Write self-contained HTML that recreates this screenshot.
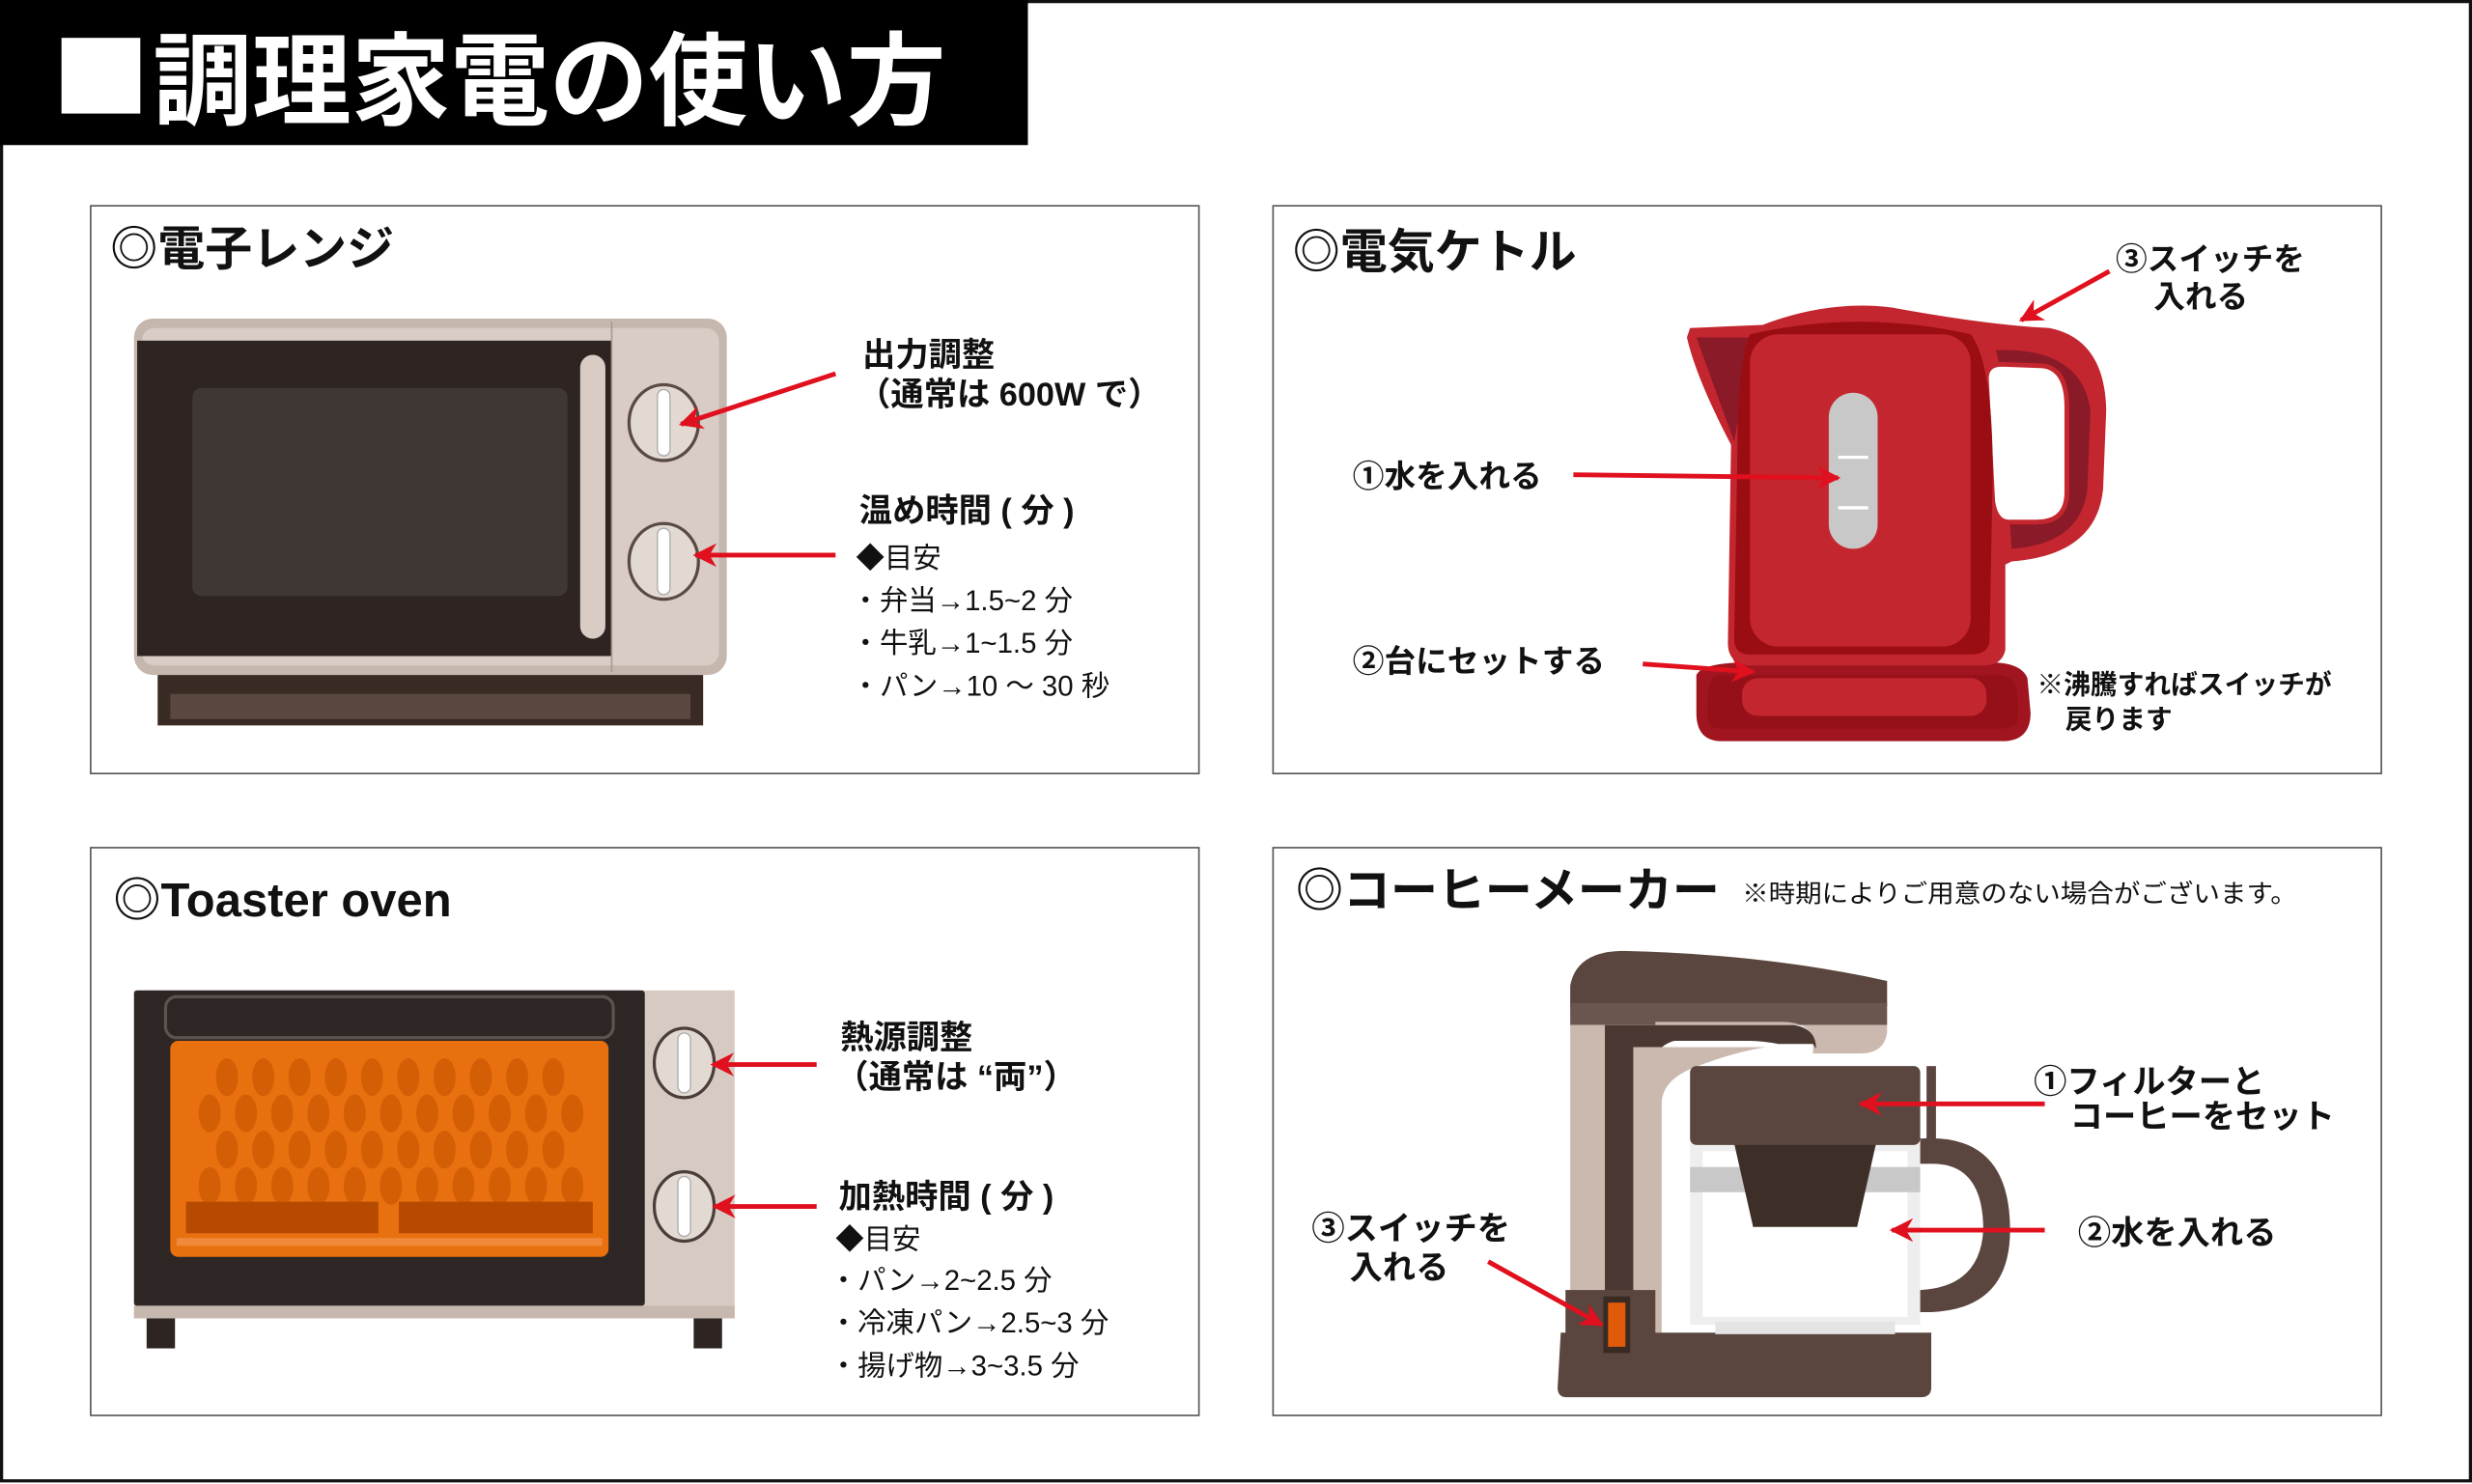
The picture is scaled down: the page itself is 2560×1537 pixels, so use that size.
<!DOCTYPE html>
<html><head><meta charset="utf-8"><style>
html,body{margin:0;padding:0;background:#fff}
svg{display:block}
text{font-family:"Liberation Sans","Noto Sans CJK JP",sans-serif;fill:#111}
.b{font-weight:bold}
</style></head><body>
<svg width="2560" height="1537" viewBox="0 0 1568 941" preserveAspectRatio="none" xmlns="http://www.w3.org/2000/svg">
<defs>
<marker id="ah" viewBox="0 0 10 10" refX="9" refY="5" markerWidth="5" markerHeight="5" orient="auto-start-reverse" markerUnits="strokeWidth">
<path d="M0,0 L10,5 L0,10 L3,5 z" fill="#e0101e"/></marker>
</defs>
<rect x="0" y="0" width="1568" height="941" fill="#fff"/>
<rect x="1" y="1" width="1566" height="938" fill="none" stroke="#111" stroke-width="2"/>
<rect x="0" y="0" width="652" height="92" fill="#000"/>
<rect x="39" y="24" width="50" height="48" fill="#fff"/>
<text x="97" y="74" class="b" font-size="64" textLength="503" lengthAdjust="spacingAndGlyphs" style="fill:#fff">調理家電の使い方</text>

<g fill="none" stroke="#555" stroke-width="1">
<rect x="57.5" y="130.5" width="703" height="360"/>
<rect x="807.5" y="130.5" width="703" height="360"/>
<rect x="57.5" y="537.5" width="703" height="360"/>
<rect x="807.5" y="537.5" width="703" height="360"/>
</g>

<!-- Microwave -->
<text x="70" y="168" class="b" font-size="30">◎電子レンジ</text>
<rect x="100" y="425" width="346" height="35" fill="#3a2a24"/>
<rect x="108" y="440" width="330" height="16" fill="#5a4840"/>
<rect x="85" y="202" width="376" height="226" rx="12" fill="#c6b7ae"/>
<rect x="90" y="208" width="366" height="214" rx="8" fill="#d8ccc5"/>
<rect x="87" y="216" width="301" height="200" fill="#2e2422"/>
<rect x="122" y="246" width="238" height="132" rx="6" fill="#3f3734"/>
<rect x="368" y="225" width="16" height="180" rx="8" fill="#d8ccc5"/>
<line x1="388" y1="204" x2="388" y2="426" stroke="#a99890" stroke-width="1"/>
<g fill="#e2d9d3" stroke="#5a4a44" stroke-width="2">
<ellipse cx="421" cy="268" rx="22" ry="24"/><ellipse cx="421" cy="356" rx="22" ry="24"/></g>
<rect x="417" y="247" width="8" height="42" rx="4" fill="#fff" stroke="#aaa" stroke-width="0.8"/>
<rect x="417" y="335" width="8" height="42" rx="4" fill="#fff" stroke="#aaa" stroke-width="0.8"/>
<g stroke="#e0101e" stroke-width="3" marker-end="url(#ah)">
<line x1="530" y1="237" x2="432" y2="269"/>
<line x1="530" y1="352" x2="441" y2="352"/></g>
<text x="547" y="232" class="b" font-size="21">出力調整</text>
<text x="544" y="257" class="b" font-size="21">（通常は 600W で）</text>
<text x="545" y="331" class="b" font-size="21">温め時間 ( 分 )</text>
<text x="543" y="360" font-size="18">◆目安</text>
<text x="540" y="387" font-size="18">・弁当→1.5~2 分</text>
<text x="540" y="414" font-size="18">・牛乳→1~1.5 分</text>
<text x="540" y="441" font-size="18">・パン→10 ～ 30 秒</text>

<!-- Kettle -->
<text x="820" y="170" class="b" font-size="30">◎電気ケトル</text>
<path d="M1076,428 Q1080,420 1110,420 L1262,420 Q1282,420 1286,430 L1288,452 Q1288,470 1270,470 L1092,470 Q1076,470 1076,452 Z" fill="#a01520"/>
<path d="M1090,428 L1270,428 Q1280,430 1280,445 L1280,455 Q1280,462 1270,462 L1092,462 Q1083,462 1083,455 L1083,445 Q1083,430 1090,428 Z" fill="#96101a"/>
<rect x="1105" y="430" width="155" height="24" rx="10" fill="#c4262f"/>
<path d="M1072,208 L1118,206 Q1160,190 1200,195 Q1260,206 1300,208 Q1335,215 1336,260 L1334,310 Q1330,352 1276,356 L1272,358 L1272,412 Q1270,422 1258,422 L1108,422 Q1096,420 1096,408 L1098,282 Q1076,240 1070,214 Z" fill="#c4262f"/>
<path d="M1076,214 L1112,214 L1100,280 Z" fill="#8a1a28"/>
<path d="M1266,222 Q1320,220 1326,260 L1324,310 Q1320,345 1276,348 L1268,230 Z" fill="#8a1a28"/>
<path d="M1260,240 Q1260,231 1270,231 L1296,232 Q1311,234 1311,258 L1311,312 Q1311,331 1292,331 L1274,331 Q1266,331 1264,318 Z" fill="#fff" stroke="#c4262f" stroke-width="3"/>
<path d="M1110,212 Q1180,196 1250,212 Q1264,230 1264,300 L1262,405 Q1262,415 1250,415 L1110,415 Q1100,415 1100,405 L1102,290 Q1102,230 1110,212 Z" fill="#9a0d12"/>
<rect x="1110" y="212" width="140" height="198" rx="18" fill="#c4262f"/>
<rect x="1160" y="249" width="31" height="99" rx="15.5" fill="#c8c8c8"/>
<line x1="1166" y1="290" x2="1185" y2="290" stroke="#fff" stroke-width="2"/>
<line x1="1166" y1="322" x2="1185" y2="322" stroke="#fff" stroke-width="2"/>
<g stroke="#e0101e" stroke-width="3" marker-end="url(#ah)">
<line x1="1338" y1="172" x2="1282" y2="203"/>
<line x1="998" y1="301" x2="1166" y2="303"/>
<line x1="1042" y1="421" x2="1112" y2="426"/></g>
<text x="1342" y="171" class="b" font-size="20">③スイッチを</text>
<text x="1366" y="195" class="b" font-size="20">入れる</text>
<text x="858" y="309" class="b" font-size="20">①水を入れる</text>
<text x="858" y="426" class="b" font-size="20">②台にセットする</text>
<text x="1292" y="440" class="b" font-size="17">※沸騰すればスイッチが</text>
<text x="1310" y="462" class="b" font-size="17">戻ります</text>

<!-- Toaster -->
<text x="72" y="581" class="b" font-size="30">◎Toaster oven</text>
<rect x="93" y="833" width="18" height="22" fill="#2e2422"/>
<rect x="440" y="833" width="18" height="22" fill="#2e2422"/>
<rect x="85" y="628" width="381" height="208" fill="#d6cac3"/>
<rect x="85" y="628" width="324" height="200" rx="2" fill="#2e2624"/>
<rect x="85" y="828" width="381" height="8" fill="#c7b8af"/>
<rect x="105" y="632" width="284" height="26" rx="7" fill="#2e2624" stroke="#5a5350" stroke-width="2"/>
<rect x="108" y="660" width="278" height="137" rx="5" fill="#e8700f"/>
<g fill="#d45e06">
<ellipse cx="144" cy="683" rx="7" ry="12"/><ellipse cx="167" cy="683" rx="7" ry="12"/><ellipse cx="190" cy="683" rx="7" ry="12"/><ellipse cx="213" cy="683" rx="7" ry="12"/><ellipse cx="236" cy="683" rx="7" ry="12"/><ellipse cx="259" cy="683" rx="7" ry="12"/><ellipse cx="282" cy="683" rx="7" ry="12"/><ellipse cx="305" cy="683" rx="7" ry="12"/><ellipse cx="328" cy="683" rx="7" ry="12"/><ellipse cx="351" cy="683" rx="7" ry="12"/>
<ellipse cx="133" cy="706" rx="7" ry="12"/><ellipse cx="156" cy="706" rx="7" ry="12"/><ellipse cx="179" cy="706" rx="7" ry="12"/><ellipse cx="202" cy="706" rx="7" ry="12"/><ellipse cx="225" cy="706" rx="7" ry="12"/><ellipse cx="248" cy="706" rx="7" ry="12"/><ellipse cx="271" cy="706" rx="7" ry="12"/><ellipse cx="294" cy="706" rx="7" ry="12"/><ellipse cx="317" cy="706" rx="7" ry="12"/><ellipse cx="340" cy="706" rx="7" ry="12"/><ellipse cx="363" cy="706" rx="7" ry="12"/>
<ellipse cx="144" cy="729" rx="7" ry="12"/><ellipse cx="167" cy="729" rx="7" ry="12"/><ellipse cx="190" cy="729" rx="7" ry="12"/><ellipse cx="213" cy="729" rx="7" ry="12"/><ellipse cx="236" cy="729" rx="7" ry="12"/><ellipse cx="259" cy="729" rx="7" ry="12"/><ellipse cx="282" cy="729" rx="7" ry="12"/><ellipse cx="305" cy="729" rx="7" ry="12"/><ellipse cx="328" cy="729" rx="7" ry="12"/><ellipse cx="351" cy="729" rx="7" ry="12"/>
<ellipse cx="133" cy="752" rx="7" ry="12"/><ellipse cx="156" cy="752" rx="7" ry="12"/><ellipse cx="179" cy="752" rx="7" ry="12"/><ellipse cx="202" cy="752" rx="7" ry="12"/><ellipse cx="225" cy="752" rx="7" ry="12"/><ellipse cx="248" cy="752" rx="7" ry="12"/><ellipse cx="271" cy="752" rx="7" ry="12"/><ellipse cx="294" cy="752" rx="7" ry="12"/><ellipse cx="317" cy="752" rx="7" ry="12"/><ellipse cx="340" cy="752" rx="7" ry="12"/><ellipse cx="363" cy="752" rx="7" ry="12"/>
</g>
<rect x="118" y="762" width="122" height="20" fill="#b64a00"/>
<rect x="253" y="762" width="123" height="20" fill="#b64a00"/>
<rect x="112" y="785" width="270" height="5" fill="#f08a3a"/>
<g fill="#e2d9d3" stroke="#4a3e3a" stroke-width="2">
<ellipse cx="434" cy="674" rx="19" ry="22"/><ellipse cx="434" cy="765" rx="19" ry="22"/></g>
<rect x="430" y="655" width="8" height="38" rx="4" fill="#fff" stroke="#aaa" stroke-width="0.8"/>
<rect x="430" y="746" width="8" height="38" rx="4" fill="#fff" stroke="#aaa" stroke-width="0.8"/>
<g stroke="#e0101e" stroke-width="3" marker-end="url(#ah)">
<line x1="518" y1="675" x2="452" y2="675"/>
<line x1="518" y1="765" x2="453" y2="765"/></g>
<text x="533" y="665" class="b" font-size="21">熱源調整</text>
<text x="530" y="690" class="b" font-size="21">（通常は “両”）</text>
<text x="532" y="766" class="b" font-size="21">加熱時間 ( 分 )</text>
<text x="530" y="792" font-size="18">◆目安</text>
<text x="526" y="818" font-size="18">・パン→2~2.5 分</text>
<text x="526" y="845" font-size="18">・冷凍パン→2.5~3 分</text>
<text x="526" y="872" font-size="18">・揚げ物→3~3.5 分</text>

<!-- Coffee maker -->
<text x="822" y="575" class="b" font-size="30">◎コーヒーメーカー</text>
<text x="1105" y="572" font-size="16" textLength="352" lengthAdjust="spacingAndGlyphs">※時期によりご用意のない場合がございます。</text>
<path d="M996,640 L996,625 Q1000,603 1030,603 Q1120,605 1197,622 L1197,638 Z" fill="#5a463e"/>
<rect x="996" y="636" width="201" height="14" fill="#6a564e"/>
<path d="M996,650 L1197,650 L1197,655 Q1195,668 1180,668 L1150,668 L1150,660 Q1148,648 1130,648 L1050,648 L1050,845 L996,845 Z" fill="#cbb9af"/>
<path d="M1018,650 L1138,650 Q1152,652 1152,665 L1150,662 L1128,662 Q1118,660 1110,660 L1062,660 Q1048,664 1048,680 L1048,845 L1018,845 Z" fill="#4a3832"/>
<path d="M1036,664 L1120,664 Q1096,668 1072,678 Q1054,686 1054,700 L1054,845 L1036,845 Z" fill="#cbb9af"/>
<path d="M990,845 L1225,845 L1225,880 Q1225,886 1218,886 L994,886 Q988,886 988,880 Z" fill="#5a463e"/>
<rect x="993" y="818" width="57" height="30" fill="#5a463e"/>
<rect x="1072" y="725" width="146" height="115" fill="#eeeeee"/>
<rect x="1080" y="730" width="130" height="105" fill="#fff"/>
<rect x="1072" y="740" width="146" height="16" fill="#c8c8c8"/>
<path d="M1100,725 L1190,725 L1178,778 L1112,778 Z" fill="#3e2e28"/>
<rect x="1088" y="838" width="114" height="8" fill="#e4e4e4"/>
<path d="M1218,722 Q1275,718 1275,780 Q1275,830 1225,832 L1218,832 L1218,818 Q1256,816 1258,780 Q1258,738 1226,738 L1218,738 Z" fill="#5a463e"/>
<rect x="1072" y="676" width="146" height="50" rx="4" fill="#5a463e"/>
<rect x="1222" y="676" width="6" height="56" fill="#5a463e"/>
<rect x="1017" y="822" width="17" height="36" fill="#3a2a24"/>
<rect x="1020" y="826" width="11" height="28" fill="#e05a0a"/>
<g stroke="#e0101e" stroke-width="3" marker-end="url(#ah)">
<line x1="1297" y1="700" x2="1180" y2="700"/>
<line x1="1297" y1="780" x2="1200" y2="780"/>
<line x1="944" y1="800" x2="1016" y2="840"/></g>
<text x="1290" y="693" class="b" font-size="21">①フィルターと</text>
<text x="1313" y="715" class="b" font-size="21">コーヒーをセット</text>
<text x="1318" y="789" class="b" font-size="21">②水を入れる</text>
<text x="832" y="786" class="b" font-size="21">③スイッチを</text>
<text x="856" y="811" class="b" font-size="21">入れる</text>
</svg>
</body></html>
